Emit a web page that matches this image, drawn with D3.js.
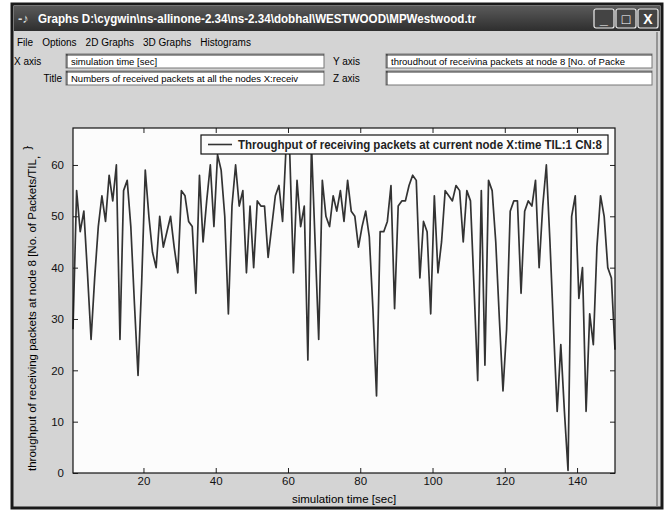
<!DOCTYPE html>
<html>
<head>
<meta charset="utf-8">
<script src="https://cdn.jsdelivr.net/npm/d3@7"></script>
<style>
  html, body { margin: 0; padding: 0; background: #fff; }
  svg { display: block; font-family: "Liberation Sans", Arial, sans-serif; }
</style>
</head>
<body>
<svg id="win" width="665" height="516"></svg>
<script>
// throughput samples, one per second starting at t = 0.5
const startTime = 0.5;
const throughput = [
  28, 55, 47, 51, 39, 26, 38, 48, 54, 49, 58, 53, 60, 26, 55, 57, 48, 33, 19, 37, 59, 50, 43, 40, 50,
  44, 47, 50, 44, 39, 55, 54, 49, 48, 35, 58, 45, 53, 60, 48, 62, 59, 50, 31, 52, 60, 52, 55, 39, 52,
  40, 53, 52, 52, 42, 48, 54, 56, 49, 64, 62, 39, 57, 48, 52, 22, 64, 45, 26, 57, 50, 48, 54, 51, 55,
  49, 57, 51, 50, 44, 48, 51, 46, 32, 15, 47, 47, 49, 56, 32, 52, 53, 53, 56, 58, 57, 38, 49, 47, 31,
  54, 39, 45, 55, 54, 53, 56, 55, 45, 55, 53, 36, 18, 55, 21, 57, 55, 45, 30, 16, 28, 51, 53, 53, 35,
  51, 53, 52, 57, 40, 52, 60, 45, 28, 12, 25, 12, 0.5, 50, 54, 34, 40, 12, 31, 25, 44, 54, 50, 40, 38, 24
];
const xTicks = [20, 40, 60, 80, 100, 120, 140];
const yTicks = [0, 10, 20, 30, 40, 50, 60];
const menuItems = ['File', 'Options', '2D Graphs', '3D Graphs', 'Histograms'];

const data = throughput.map((v, i) => ({ t: startTime + i, v: v }));

const svg = d3.select('#win');

// window frame
svg.append('rect').attr('x', 12).attr('y', 4).attr('width', 650).attr('height', 504)
  .attr('fill', '#d4d4d4').attr('stroke', '#1a1a1a').attr('stroke-width', 3);
svg.append('line').attr('x1', 657).attr('x2', 657).attr('y1', 32).attr('y2', 506)
  .attr('stroke', '#555').attr('stroke-width', 1);

// title bar
const grad = svg.append('defs').append('linearGradient').attr('id', 'tb')
  .attr('x1', 0).attr('y1', 0).attr('x2', 0).attr('y2', 1);
grad.append('stop').attr('offset', 0).attr('stop-color', '#5a5a5a');
grad.append('stop').attr('offset', 1).attr('stop-color', '#2e2e2e');
svg.append('rect').attr('x', 14).attr('y', 6).attr('width', 646).attr('height', 25).attr('fill', 'url(#tb)');
svg.append('text').attr('x', 18).attr('y', 23).attr('fill', '#ddd').attr('font-size', 13).attr('font-weight', 'bold').text('-♪');
svg.append('text').attr('x', 38).attr('y', 23).attr('fill', '#fff')
  .attr('font-size', 12.5).attr('font-weight', 'bold')
  .attr('textLength', 438).attr('lengthAdjust', 'spacingAndGlyphs')
  .text('Graphs  D:\\cygwin\\ns-allinone-2.34\\ns-2.34\\dobhal\\WESTWOOD\\MPWestwood.tr');

// window buttons
const btns = svg.selectAll('.btn').data(['_', '□', 'X']).enter().append('g').attr('class', 'btn')
  .attr('transform', (d, i) => `translate(${594 + i * 22},9)`);
btns.append('rect').attr('width', 20).attr('height', 19).attr('rx', 2)
  .attr('fill', '#444').attr('stroke', '#eee').attr('stroke-width', 1.2);
btns.append('text').attr('x', 10).attr('y', 15).attr('text-anchor', 'middle')
  .attr('fill', '#fff').attr('font-size', 14).attr('font-weight', 'bold').text(d => d);

// menu
let mx = 17;
menuItems.forEach(m => {
  const t = svg.append('text').attr('x', mx).attr('y', 46).attr('font-size', 10).attr('fill', '#000').text(m);
  mx += t.node().getComputedTextLength() + 9;
});

// text fields
function field(x, y, w, txt) {
  svg.append('rect').attr('x', x).attr('y', y).attr('width', w).attr('height', 14)
    .attr('fill', '#fff').attr('stroke', '#777').attr('stroke-width', 1);
  svg.append('line').attr('x1', x).attr('x2', x + w).attr('y1', y + 1).attr('y2', y + 1).attr('stroke', '#333');
  svg.append('line').attr('x1', x + 1).attr('x2', x + 1).attr('y1', y).attr('y2', y + 14).attr('stroke', '#333');
  if (txt) svg.append('text').attr('x', x + 5).attr('y', y + 11).attr('font-size', 9.5).text(txt);
}
svg.append('text').attr('x', 14).attr('y', 65).attr('font-size', 10).text('X axis');
field(66, 54, 258, 'simulation time [sec]');
svg.append('text').attr('x', 333).attr('y', 65).attr('font-size', 10).text('Y axis');
field(386, 54, 266, 'throudhout of receivina packets at node 8 [No. of Packe');
svg.append('text').attr('x', 62).attr('y', 82).attr('font-size', 10).attr('text-anchor', 'end').text('Title');
field(66, 71, 258, 'Numbers of received packets at all the nodes X:receiv');
svg.append('text').attr('x', 333).attr('y', 82).attr('font-size', 10).text('Z axis');
field(386, 71, 266, '');

// plot
const margin = { left: 73, top: 128, right: 615, bottom: 473 };
const x = d3.scaleLinear().domain([0.5, 150.5]).range([margin.left, margin.right]);
const y = d3.scaleLinear().domain([0, 67.2]).range([margin.bottom, margin.top]);

svg.append('rect').attr('x', margin.left).attr('y', margin.top)
  .attr('width', margin.right - margin.left).attr('height', margin.bottom - margin.top)
  .attr('fill', '#fcfcfc');

const line = d3.line().x(d => x(d.t)).y(d => y(d.v));
svg.append('path').datum(data).attr('d', line)
  .attr('fill', 'none').attr('stroke', '#333').attr('stroke-width', 1.7).attr('stroke-linejoin', 'round');

// axes, ticks inward on all sides
const fs = 11.5;
svg.append('g').attr('transform', `translate(0,${margin.bottom})`)
  .call(d3.axisBottom(x).tickValues(xTicks).tickSize(-5).tickPadding(4))
  .call(g => g.select('.domain').remove());
svg.append('g').attr('transform', `translate(0,${margin.top})`)
  .call(d3.axisTop(x).tickValues(xTicks).tickSize(-5).tickFormat(''))
  .call(g => g.select('.domain').remove());
svg.append('g').attr('transform', `translate(${margin.left},0)`)
  .call(d3.axisLeft(y).tickValues(yTicks).tickSize(-5).tickPadding(9))
  .call(g => g.select('.domain').remove());
svg.append('g').attr('transform', `translate(${margin.right},0)`)
  .call(d3.axisRight(y).tickValues(yTicks).tickSize(-5).tickFormat(''))
  .call(g => g.select('.domain').remove());
svg.selectAll('.tick text').attr('font-size', fs).attr('fill', '#111')
  .attr('font-family', '"Liberation Sans", Arial, sans-serif');
svg.selectAll('.tick line').attr('stroke', '#222');

svg.append('rect').attr('x', margin.left).attr('y', margin.top)
  .attr('width', margin.right - margin.left).attr('height', margin.bottom - margin.top)
  .attr('fill', 'none').attr('stroke', '#111').attr('stroke-width', 1.2);

// axis labels
svg.append('text').attr('x', (margin.left + margin.right) / 2).attr('y', 503)
  .attr('text-anchor', 'middle').attr('font-size', 11.5).text('simulation time [sec]');
const yl = svg.append('text').attr('transform', `translate(36,${(margin.top + margin.bottom) / 2 + 8}) rotate(-90)`)
  .attr('text-anchor', 'middle').attr('font-size', 11.5);
yl.append('tspan').text('throughput of receiving packets at node 8 [No. of Packets/TIL');
yl.append('tspan').attr('dy', 3).text(',');
yl.append('tspan').attr('dy', -8).attr('dx', 6).text('}');

// legend
const lg = svg.append('g');
lg.append('rect').attr('x', 201).attr('y', 135).attr('width', 407).attr('height', 19)
  .attr('fill', '#fcfcfc').attr('stroke', '#111').attr('stroke-width', 1.2);
lg.append('line').attr('x1', 208).attr('x2', 232).attr('y1', 144.5).attr('y2', 144.5)
  .attr('stroke', '#333').attr('stroke-width', 1.6);
lg.append('text').attr('x', 238).attr('y', 149).attr('font-size', 12).attr('font-weight', 'bold')
  .attr('fill', '#222').attr('textLength', 364).attr('lengthAdjust', 'spacingAndGlyphs')
  .text('Throughput of receiving packets at current node X:time TIL:1 CN:8');
</script>
</body>
</html>
